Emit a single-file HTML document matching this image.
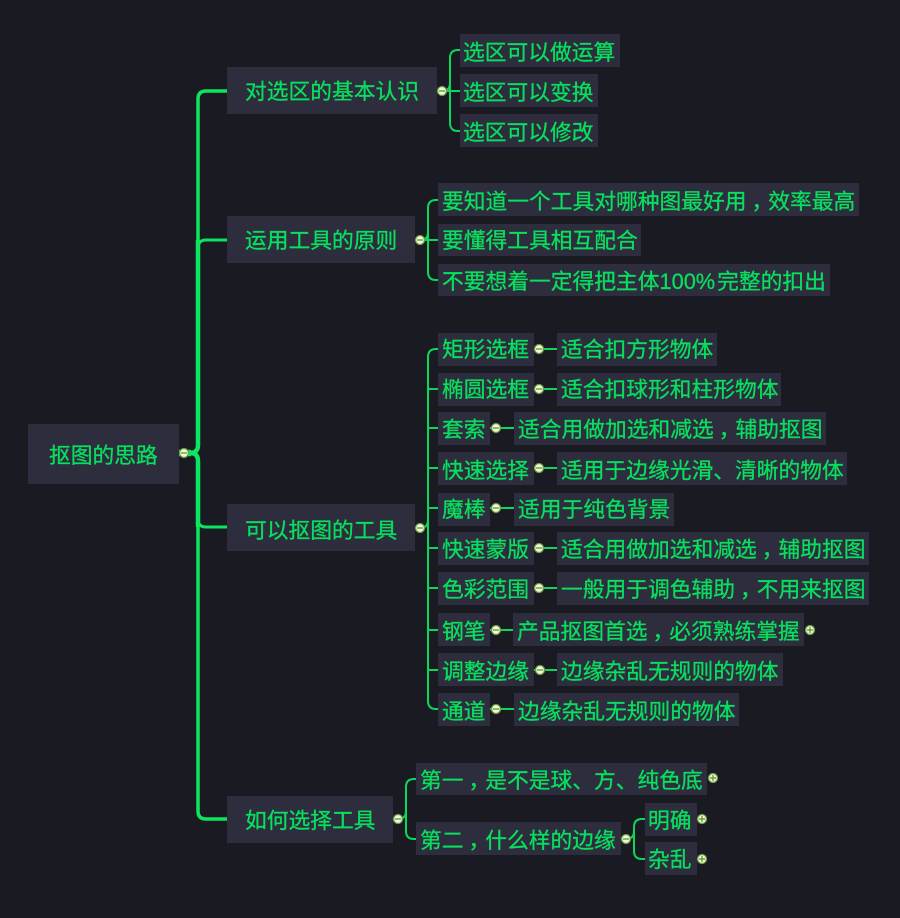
<!DOCTYPE html>
<html><head><meta charset="utf-8">
<style>
html,body{margin:0;padding:0;background:#1a1a23;width:900px;height:918px;overflow:hidden}
svg{display:block}
text{font-family:"Liberation Sans","Noto Sans CJK SC",sans-serif;font-size:21.75px;fill:#08df5e;stroke:#08df5e;stroke-width:.3px}
rect{fill:#2d2d3e}
.m{fill:none;stroke:#0ce65e;stroke-width:3}
.l{fill:none;stroke:#0bd85a;stroke-width:2}
.d{fill:#eef8dc;stroke:#6d9a3e;stroke-width:1.3}
.n{stroke:#6d9a3e;stroke-width:1.4}
</style></head><body>
<svg width="900" height="918" viewBox="0 0 900 918" xmlns="http://www.w3.org/2000/svg">
<rect x="0" y="0" width="900" height="918" style="fill:#1a1a23"/>

<!-- trunk -->
<path class="m" style="stroke-width:3.5" d="M227 91H206Q198 91 198 99V240"/>
<path class="m" d="M227 240H206Q198 240 198 248"/>
<path class="m" style="stroke-width:4.5" d="M198 240V445Q198 453 190 453"/>
<path class="m" style="stroke-width:4.5" d="M190 453Q198 453 198 461V527"/>
<path class="m" style="stroke-width:6.5" d="M179 453H191"/>
<path class="m" style="stroke-width:3.5" d="M198 527V811Q198 819 206 819H227"/>
<path class="m" d="M227 527H206Q198 527 198 519"/>

<!-- group connectors -->
<path class="l" d="M437 91H442Q450 91 450 83V58Q450 50 458 50H460M450 83V123Q450 131 458 131H460M442 91H460"/>
<path class="l" d="M415 240H420Q428 240 428 232V208Q428 200 436 200H438M428 232V272Q428 280 436 280H438M420 240H438"/>
<path class="l" d="M415 528H420Q428 528 428 520V357Q428 349 436 349H438M428 520V701Q428 709 436 709H438M428 389H438M428 428H438M428 468H438M428 508H438M428 548H438M428 588H438M428 630H438M428 670H438"/>
<path class="l" d="M393 819H398Q406 819 406 811V787Q406 779 414 779H416M406 811V831Q406 839 414 839H416"/>
<path class="l" d="M621 839H626Q634 839 634 831V827Q634 819 642 819H645M634 831V851Q634 859 642 859H645"/>
<path class="l" d="M534 349H557M534 389H557M490 428H514M534 468H557M490 508H514M534 548H557M534 588H557M490 630H513M534 670H557M490 709H514"/>

<!-- boxes -->
<rect x="28" y="424" width="151" height="60"/>
<rect x="227" y="67" width="210" height="47"/>
<rect x="227" y="216" width="188" height="47"/>
<rect x="227" y="504" width="188" height="47"/>
<rect x="227" y="796" width="166" height="47"/>

<rect x="460" y="34" width="160" height="33"/>
<rect x="460" y="74" width="138" height="33"/>
<rect x="460" y="114" width="138" height="33"/>

<rect x="438" y="183" width="421" height="33"/>
<rect x="438" y="224" width="203" height="32"/>
<rect x="438" y="264" width="392" height="32"/>

<rect x="438" y="333" width="96" height="33"/><rect x="557" y="333" width="160" height="33"/>
<rect x="438" y="373" width="96" height="33"/><rect x="557" y="373" width="224" height="33"/>
<rect x="438" y="412" width="52" height="33"/><rect x="514" y="412" width="312" height="33"/>
<rect x="438" y="452" width="96" height="33"/><rect x="557" y="452" width="290" height="33"/>
<rect x="438" y="493" width="52" height="33"/><rect x="514" y="493" width="160" height="33"/>
<rect x="438" y="532" width="96" height="33"/><rect x="557" y="532" width="312" height="33"/>
<rect x="438" y="572" width="96" height="33"/><rect x="557" y="572" width="312" height="33"/>
<rect x="438" y="613" width="52" height="33"/><rect x="513" y="613" width="291" height="33"/>
<rect x="438" y="653" width="96" height="33"/><rect x="557" y="653" width="226" height="33"/>
<rect x="438" y="693" width="52" height="33"/><rect x="514" y="693" width="225" height="33"/>

<rect x="416" y="763" width="291" height="32"/>
<rect x="416" y="822" width="205" height="33"/>
<rect x="645" y="803" width="52" height="33"/>
<rect x="645" y="842" width="52" height="33"/>

<!-- text -->
<text x="49" y="463">抠图的思路</text>
<text x="245" y="99">对选区的基本认识</text>
<text x="245" y="248">运用工具的原则</text>
<text x="245" y="538">可以抠图的工具</text>
<text x="245" y="828">如何选择工具</text>

<text x="463" y="60">选区可以做运算</text>
<text x="463" y="100">选区可以变换</text>
<text x="463" y="140">选区可以修改</text>

<text x="442" y="209">要知道一个工具对哪种图最好用<tspan dx="5">，</tspan><tspan dx="-5">效率最高</tspan></text>
<text x="442" y="248">要懂得工具相互配合</text>
<text x="442" y="289">不要想着一定得把主体100%<tspan dx="2">完整的扣出</tspan></text>

<text x="442" y="357">矩形选框</text><text x="561" y="357">适合扣方形物体</text>
<text x="442" y="397">椭圆选框</text><text x="561" y="397">适合扣球形和柱形物体</text>
<text x="442" y="437">套索</text><text x="518" y="437">适合用做加选和减选<tspan dx="5">，</tspan><tspan dx="-5">辅助抠图</tspan></text>
<text x="442" y="478">快速选择</text><text x="561" y="478">适用于边缘光滑、清晰的物体</text>
<text x="442" y="517">魔棒</text><text x="518" y="517">适用于纯色背景</text>
<text x="442" y="557">快速蒙版</text><text x="561" y="557">适合用做加选和减选<tspan dx="5">，</tspan><tspan dx="-5">辅助抠图</tspan></text>
<text x="442" y="597">色彩范围</text><text x="561" y="597">一般用于调色辅助<tspan dx="5">，</tspan><tspan dx="-5">不用来抠图</tspan></text>
<text x="442" y="639">钢笔</text><text x="517" y="639">产品抠图首选<tspan dx="5">，</tspan><tspan dx="-5">必须熟练掌握</tspan></text>
<text x="442" y="679">调整边缘</text><text x="561" y="679">边缘杂乱无规则的物体</text>
<text x="442" y="719">通道</text><text x="518" y="719">边缘杂乱无规则的物体</text>

<text x="420" y="788">第一<tspan dx="5">，</tspan><tspan dx="-5">是不是球、方、纯色底</tspan></text>
<text x="420" y="848">第二<tspan dx="5">，</tspan><tspan dx="-5">什么样的边缘</tspan></text>
<text x="648" y="828">明确</text>
<text x="648" y="867">杂乱</text>

<!-- collapse dots -->
<g>
<circle class="d" cx="184" cy="453" r="4.5"/><path class="n" d="M181 453H187"/>
<circle class="d" cx="442" cy="91" r="4.5"/><path class="n" d="M439 91H445"/>
<circle class="d" cx="420" cy="240" r="4.5"/><path class="n" d="M417 240H423"/>
<circle class="d" cx="420" cy="528" r="4.5"/><path class="n" d="M417 528H423"/>
<circle class="d" cx="398" cy="819" r="4.5"/><path class="n" d="M395 819H401"/>
<circle class="d" cx="626" cy="839" r="4.5"/><path class="n" d="M623 839H629"/>
<circle class="d" cx="539" cy="349" r="4.5"/><path class="n" d="M536 349H542"/>
<circle class="d" cx="539" cy="389" r="4.5"/><path class="n" d="M536 389H542"/>
<circle class="d" cx="496" cy="428" r="4.5"/><path class="n" d="M493 428H499"/>
<circle class="d" cx="539" cy="468" r="4.5"/><path class="n" d="M536 468H542"/>
<circle class="d" cx="496" cy="508" r="4.5"/><path class="n" d="M493 508H499"/>
<circle class="d" cx="539" cy="548" r="4.5"/><path class="n" d="M536 548H542"/>
<circle class="d" cx="539" cy="588" r="4.5"/><path class="n" d="M536 588H542"/>
<circle class="d" cx="496" cy="630" r="4.5"/><path class="n" d="M493 630H499"/>
<circle class="d" cx="540" cy="670" r="4.5"/><path class="n" d="M537 670H543"/>
<circle class="d" cx="496" cy="709" r="4.5"/><path class="n" d="M493 709H499"/>
<circle class="d" cx="810" cy="630" r="4.5"/><path class="n" d="M807 630H813M810 627V633"/>
<circle class="d" cx="713" cy="778" r="4.5"/><path class="n" d="M710 778H716M713 775V781"/>
<circle class="d" cx="702" cy="819" r="4.5"/><path class="n" d="M699 819H705M702 816V822"/>
<circle class="d" cx="702" cy="859" r="4.5"/><path class="n" d="M699 859H705M702 856V862"/>
</g>
</svg>
</body></html>
